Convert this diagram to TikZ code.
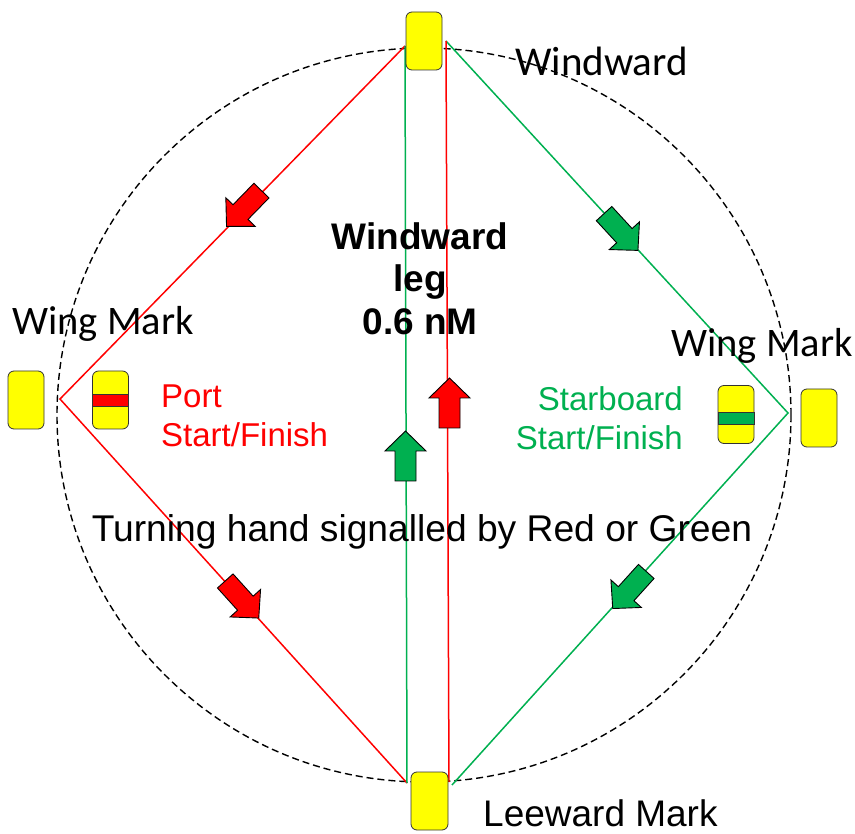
\documentclass[tikz,border=0pt]{standalone}
\usepackage{fontspec}
\setmainfont{Liberation Sans}
\newfontfamily\calf{Carlito}
\definecolor{ored}{HTML}{FF0000}
\definecolor{ogreen}{HTML}{00B050}
\definecolor{oyellow}{HTML}{FFFF00}
\begin{document}
\begin{tikzpicture}[x=1pt,y=-1pt,
 buoy/.style={draw=black!80, line width=0.8pt, fill=oyellow, rounded corners=6pt, minimum width=36pt, minimum height=58pt, inner sep=0pt},
 band/.style={draw=black!80, line width=0.8pt, minimum width=36pt, minimum height=12pt, inner sep=0pt},
 leg/.style={line width=1.5pt},
 lbl/.style={inner sep=0pt, anchor=base west},
 lblr/.style={inner sep=0pt, anchor=base east},
 lblc/.style={inner sep=0pt, anchor=base},
 blockarrow/.pic={\filldraw[fill=#1, draw=black, line width=0.9pt, line join=miter] (25,0) -- (5,20.5) -- (5,10.5) -- (-25,10.5) -- (-25,-10.5) -- (5,-10.5) -- (5,-20.5) -- cycle;}
]
\useasboundingbox (0,0) rectangle (855,834);
% course circle
\node[circle, draw, dash pattern=on 7pt off 4pt, line width=1.4pt, minimum size=734pt, inner sep=0pt] (course) at (424,415) {};
% leg end points
\coordinate (tl) at (405,46);
\coordinate (tr) at (446,41);
\coordinate (bl) at (407,783);
\coordinate (brr) at (449,782);
\coordinate (brg) at (452,785);
\coordinate (wl) at (60,399);
\coordinate (wr) at (788,413);
% legs
\draw[leg, ored] (tl) -- (wl) -- (bl);
\draw[leg, ogreen] (tr) -- (wr) -- (brg);
\draw[leg, ogreen] (tl) -- (bl);
\draw[leg, ored] (tr) -- (brr);
% marks
\node[buoy] (top) at (424,41) {};
\node[buoy, minimum width=37pt] (bottom) at (429.5,801) {};
\node[buoy] (wingl) at (26,400) {};
\node[buoy] (portm) at (110.5,400) {};
\node[band, fill=ored] (portband) at (110.5,400) {};
\node[buoy] (stbdm) at (736,414.5) {};
\node[band, fill=ogreen] (stbdband) at (736,418) {};
\node[buoy] (wingr) at (819,418) {};
% arrows
\pic[rotate=225.7] at (244,208.5) {blockarrow=ored};
\pic[rotate=-47.9] at (242,599.5) {blockarrow=ored};
\pic[rotate=-47.4] at (621,232) {blockarrow=ogreen};
\pic[rotate=227.9] at (629.5,590) {blockarrow=ogreen};
\pic[rotate=90] at (405.5,456) {blockarrow=ogreen};
\pic[rotate=90] at (449.5,403) {blockarrow=ored};
% labels
\node[lbl, font=\calf\fontsize{41}{41}\selectfont] (wwd) at (515,76) {Windward};
\node[lbl, font=\calf\fontsize{40.5}{41}\selectfont] (wml) at (12,335) {Wing Mark};
\node[lbl, font=\calf\fontsize{40.5}{41}\selectfont] (wmr) at (671,357) {Wing Mark};
\node[lbl, font=\fontsize{33}{39}\selectfont, text=ored] (port1) at (161,408) {Port};
\node[lbl, font=\fontsize{33}{39}\selectfont, text=ored] (port2) at (161,447) {Start/Finish};
\node[lblr, font=\fontsize{33}{39}\selectfont, text=ogreen] (stbd1) at (683,411) {Starboard};
\node[lblr, font=\fontsize{33}{39}\selectfont, text=ogreen] (stbd2) at (683,450) {Start/Finish};
\node[lblc, font=\fontsize{37}{42}\selectfont\bfseries] (leg1) at (420,250) {Windward};
\node[lblc, font=\fontsize{37}{42}\selectfont\bfseries] (leg2) at (420,292) {leg};
\node[lblc, font=\fontsize{37}{42}\selectfont\bfseries] (leg3) at (420,335) {0.6 nM};
\node[lblc, font=\fontsize{37.2}{42}\selectfont] (turn) at (422,541) {Turning hand signalled by Red or Green};
\node[lbl, font=\fontsize{37}{42}\selectfont] (lee) at (483,826) {Leeward Mark};
\end{tikzpicture}
\end{document}
